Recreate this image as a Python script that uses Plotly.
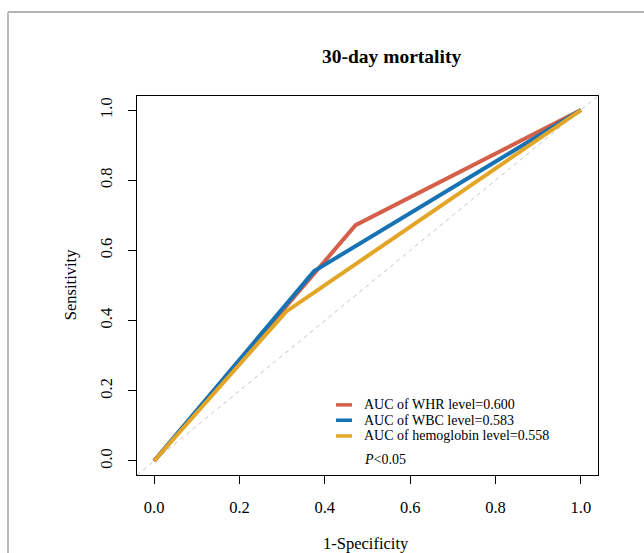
import plotly.graph_objects as go

# ROC points (1-specificity, sensitivity)
whr_fpr = [0.0, 0.472, 1.0]
whr_tpr = [0.0, 0.672, 1.0]
wbc_fpr = [0.0, 0.375, 1.0]
wbc_tpr = [0.0, 0.541, 1.0]
hb_fpr = [0.0, 0.310, 1.0]
hb_tpr = [0.0, 0.426, 1.0]

labels = ["AUC of WHR level=0.600", "AUC of WBC level=0.583", "AUC of hemoglobin level=0.558"]
colors = ["#D4604A", "#1772B4", "#E2A526"]
tick_vals = [0.0, 0.2, 0.4, 0.6, 0.8, 1.0]
tick_text = ["0.0", "0.2", "0.4", "0.6", "0.8", "1.0"]
ref_line = [-0.04, 1.04]

FONT = "Liberation Serif"

fig = go.Figure()

# chance line
fig.add_trace(go.Scatter(x=ref_line, y=ref_line, mode="lines",
                         line=dict(color="#c4c4c4", width=1, dash="4px,4px"),
                         showlegend=False, hoverinfo="skip"))

series = [(whr_fpr, whr_tpr), (wbc_fpr, wbc_tpr), (hb_fpr, hb_tpr)]
for (fx, ty), name, col in zip(series, labels, colors):
    fig.add_trace(go.Scatter(x=fx, y=ty, mode="lines", name=name,
                             line=dict(color=col, width=4),
                             showlegend=False))

# hand-drawn legend (short keys like base R)
row_y = [0.185, 0.1445, 0.103]
for name, col, yy in zip(labels, colors, row_y):
    fig.add_shape(type="line", xref="paper", yref="paper",
                  x0=0.4317, x1=0.4664, y0=yy, y1=yy,
                  line=dict(color=col, width=3.5))
    fig.add_annotation(text=name, xref="paper", yref="paper", x=0.488, y=yy,
                       xanchor="left", yanchor="middle", showarrow=False,
                       font=dict(family=FONT, size=14, color="black"))
fig.add_annotation(text="<i>P</i><0.05", xref="paper", yref="paper", x=0.488, y=0.042,
                   xanchor="left", yanchor="middle", showarrow=False,
                   font=dict(family=FONT, size=14, color="black"))

# titles
fig.add_annotation(text="<b>30-day mortality</b>", xref="paper", yref="paper",
                   x=0.553, y=1.103, xanchor="center", yanchor="middle", showarrow=False,
                   font=dict(family=FONT, size=19.5, color="black"))
fig.add_annotation(text="1-Specificity", xref="paper", yref="paper",
                   x=0.497, y=-0.18, xanchor="center", yanchor="middle", showarrow=False,
                   font=dict(family=FONT, size=16.5, color="black"))
fig.add_annotation(text="Sensitivity", xref="paper", yref="paper", textangle=-90,
                   x=-0.1453, y=0.501, xanchor="center", yanchor="middle", showarrow=False,
                   font=dict(family=FONT, size=16.5, color="black"))

# outer figure frame (top and left edges visible)
fig.add_shape(type="line", xref="paper", yref="paper", x0=-0.2798, x1=1.2, y0=1.2216, y1=1.2216,
              line=dict(color="#999999", width=1.5))
fig.add_shape(type="line", xref="paper", yref="paper", x0=-0.2798, x1=-0.2798, y0=1.2216, y1=-0.3,
              line=dict(color="#bbbbbb", width=2))

axis_common = dict(range=[-0.04, 1.04], tickvals=tick_vals, ticktext=tick_text,
                   showgrid=False, zeroline=False, showline=True, mirror=True,
                   linecolor="black", linewidth=1, ticks="outside", ticklen=8,
                   tickcolor="black", ticklabelstandoff=9,
                   tickfont=dict(family=FONT, size=16.5, color="black"))

fig.update_layout(
    width=644, height=553,
    margin=dict(l=137, r=46, t=96, b=78),
    plot_bgcolor="white", paper_bgcolor="white",
    xaxis=dict(**axis_common),
    yaxis=dict(**axis_common, tickangle=-90),
    showlegend=False,
)

fig.write_html("out.html", config={"displayModeBar": False},
               post_script="document.body.style.margin='0px';")
